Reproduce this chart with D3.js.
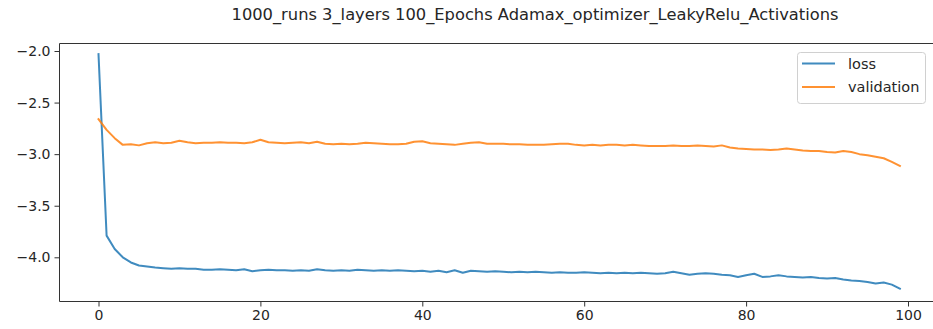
<!DOCTYPE html>
<html>
<head>
<meta charset="utf-8">
<script src="https://cdn.jsdelivr.net/npm/d3@7"></script>
<style>
  html, body { margin: 0; padding: 0; background: #fff; }
  svg { display: block; }
  text { font-family: "DejaVu Sans", sans-serif; fill: #262626; }
</style>
</head>
<body>
<svg id="chart" width="933" height="329"></svg>
<script>
// Training history: log-loss per epoch
const epochs = d3.range(100);
const loss = [
  -2.03, -3.79, -3.92, -4.00, -4.05, -4.08, -4.09, -4.10, -4.105, -4.11,
  -4.105, -4.11, -4.11, -4.12, -4.12, -4.115, -4.12, -4.125, -4.115, -4.135,
  -4.125, -4.12, -4.125, -4.125, -4.13, -4.125, -4.13, -4.115, -4.125, -4.13,
  -4.125, -4.13, -4.12, -4.125, -4.13, -4.125, -4.13, -4.125, -4.13, -4.135,
  -4.13, -4.14, -4.13, -4.145, -4.125, -4.15, -4.13, -4.135, -4.14, -4.135,
  -4.14, -4.145, -4.14, -4.145, -4.14, -4.145, -4.15, -4.145, -4.15, -4.15,
  -4.145, -4.15, -4.155, -4.15, -4.155, -4.15, -4.155, -4.15, -4.155, -4.16,
  -4.155, -4.14, -4.155, -4.17, -4.16, -4.155, -4.16, -4.17, -4.175, -4.19,
  -4.175, -4.16, -4.19, -4.185, -4.175, -4.185, -4.19, -4.195, -4.19, -4.2,
  -4.205, -4.2, -4.215, -4.225, -4.23, -4.24, -4.255, -4.245, -4.265, -4.305
];
const validation = [
  -2.66, -2.765, -2.845, -2.91, -2.905, -2.915, -2.895, -2.885, -2.895, -2.89,
  -2.87, -2.885, -2.895, -2.89, -2.89, -2.885, -2.89, -2.89, -2.895, -2.885,
  -2.86, -2.885, -2.89, -2.895, -2.89, -2.885, -2.895, -2.88, -2.9, -2.905,
  -2.9, -2.905, -2.9, -2.89, -2.895, -2.9, -2.905, -2.905, -2.9, -2.88,
  -2.875, -2.895, -2.9, -2.905, -2.91, -2.9, -2.89, -2.885, -2.9, -2.9,
  -2.9, -2.905, -2.905, -2.91, -2.91, -2.91, -2.905, -2.9, -2.9, -2.91,
  -2.915, -2.91, -2.915, -2.91, -2.91, -2.915, -2.91, -2.915, -2.92, -2.92,
  -2.92, -2.915, -2.92, -2.92, -2.915, -2.92, -2.925, -2.915, -2.935, -2.945,
  -2.95, -2.955, -2.955, -2.96, -2.955, -2.945, -2.955, -2.965, -2.97, -2.97,
  -2.98, -2.985, -2.97, -2.98, -3.0, -3.01, -3.025, -3.04, -3.075, -3.115
];
const xTicks = [0, 20, 40, 60, 80, 100];
const yTicks = [-2.0, -2.5, -3.0, -3.5, -4.0];
const seriesNames = ["loss", "validation"];
const seriesColors = ["#1f77b4", "#ff7f0e"];
const titleText = "1000_runs 3_layers 100_Epochs Adamax_optimizer_LeakyRelu_Activations";

const svg = d3.select("#chart");

// Plot frame (right edge runs past the canvas)
const frame = { left: 59.5, top: 43.5, right: 945, bottom: 301.5 };

const x = d3.scaleLinear().domain([0, 100]).range([98.5, 908]);
const y = d3.scaleLinear().domain([-2.0, -4.0]).range([51, 257.3]);

svg.append("clipPath").attr("id", "plotclip")
  .append("rect")
  .attr("x", frame.left).attr("y", frame.top)
  .attr("width", frame.right - frame.left).attr("height", frame.bottom - frame.top);

// Lines
const line = d3.line().x((d, i) => x(epochs[i])).y(d => y(d));
const plot = svg.append("g").attr("clip-path", "url(#plotclip)");
[loss, validation].forEach((vals, k) => {
  plot.append("path")
    .datum(vals)
    .attr("d", line)
    .attr("fill", "none")
    .attr("stroke", seriesColors[k])
    .attr("stroke-width", 2)
    .attr("stroke-linejoin", "round")
    .attr("stroke-linecap", "square")
    .attr("opacity", 0.85);
});

// Spines
const spine = svg.append("g").attr("stroke", "#333").attr("stroke-width", 1).attr("fill", "none");
spine.append("line").attr("x1", frame.left).attr("x2", frame.left).attr("y1", frame.top).attr("y2", frame.bottom);
spine.append("line").attr("x1", frame.left).attr("x2", frame.right).attr("y1", frame.top).attr("y2", frame.top);
spine.append("line").attr("x1", frame.left).attr("x2", frame.right).attr("y1", frame.bottom).attr("y2", frame.bottom);

// Axes
const xAxis = d3.axisBottom(x).tickValues(xTicks).tickSize(5).tickPadding(4).tickFormat(d3.format("d"));
const gx = svg.append("g").attr("transform", `translate(0,${frame.bottom})`).call(xAxis);
gx.select(".domain").remove();

const yAxis = d3.axisLeft(y).tickValues(yTicks).tickSize(5).tickPadding(4).tickFormat(d3.format(".1f"));
const gy = svg.append("g").attr("transform", `translate(${frame.left},0)`).call(yAxis);
gy.select(".domain").remove();

[gx, gy].forEach(g => {
  g.selectAll(".tick line").attr("stroke", "#333").attr("stroke-width", 1);
  g.selectAll(".tick text")
    .attr("fill", "#262626")
    .style("font-family", "'DejaVu Sans', sans-serif")
    .style("font-size", "14px");
});

// Title
svg.append("text")
  .attr("x", 535).attr("y", 20)
  .attr("text-anchor", "middle")
  .style("font-size", "16.3px")
  .text(titleText);

// Legend
const lg = svg.append("g").attr("transform", "translate(797,52)");
lg.append("rect")
  .attr("x", 0.5).attr("y", 0.5).attr("width", 128).attr("height", 51)
  .attr("rx", 3).attr("ry", 3)
  .attr("fill", "#fff").attr("fill-opacity", 0.8)
  .attr("stroke", "#d0d0d0").attr("stroke-width", 1);
seriesNames.forEach((name, k) => {
  const cy = 11.5 + k * 23.5;
  lg.append("line")
    .attr("x1", 5).attr("x2", 38).attr("y1", cy).attr("y2", cy)
    .attr("stroke", seriesColors[k]).attr("stroke-width", 2).attr("opacity", 0.85);
  lg.append("text")
    .attr("x", 51).attr("y", cy).attr("dy", "0.35em")
    .style("font-size", "14.5px")
    .text(name);
});
</script>
</body>
</html>
